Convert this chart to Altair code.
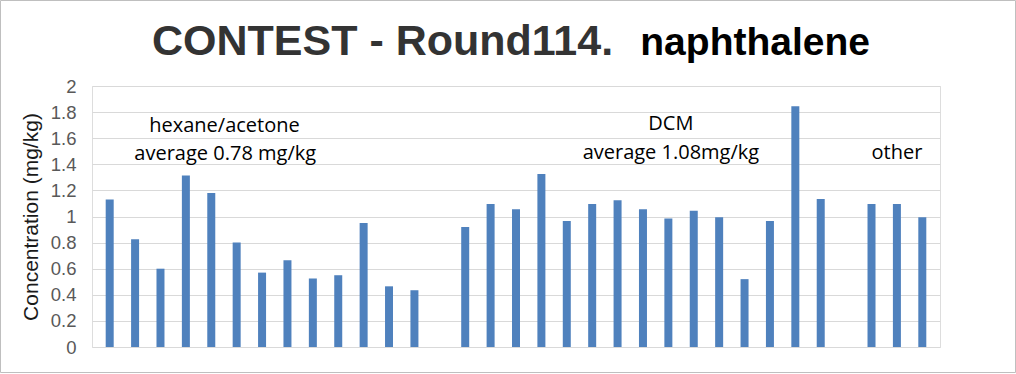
import altair as alt
import pandas as pd

# bar values (None = empty slot between groups)
values = [1.13, 0.825, 0.60, 1.315, 1.18, 0.80, 0.57, 0.665, 0.525, 0.55, 0.95, 0.465, 0.435,
          None,
          0.92, 1.095, 1.055, 1.325, 0.965, 1.095, 1.125, 1.055, 0.985, 1.045, 0.995, 0.52, 0.965, 1.845, 1.135,
          None,
          1.095, 1.095, 0.995]
positions = list(range(len(values)))

ann_text = ["hexane/acetone", "average 0.78 mg/kg", "DCM", "average 1.08mg/kg", "other"]
ann_x = [4.52, 4.55, 22.1, 22.1, 31.0]
ann_y = [1.69, 1.48, 1.71, 1.49, 1.49]

y_ticks = [0, 0.2, 0.4, 0.6, 0.8, 1, 1.2, 1.4, 1.6, 1.8, 2]

title_parts = ["CONTEST - Round114.", "naphthalene"]
title_colors = ["#333333", "#000000"]

bars_df = pd.DataFrame({"pos": positions, "value": values}).dropna()
ann_df = pd.DataFrame({"text": ann_text, "x": ann_x, "y": ann_y})

W, H = 848, 261
xs = alt.Scale(domain=[-0.5, len(values) - 0.5], nice=False, zero=False)
ys = alt.Scale(domain=[0, 2], nice=False)

y_axis = alt.Axis(values=y_ticks, format="~g", labelOverlap=False,
                  title="Concentration (mg/kg)", grid=True, gridColor="#d9d9d9",
                  domain=False, ticks=False, labelFontSize=18.5, labelColor="#595959",
                  labelFont="Liberation Sans", labelPadding=16,
                  titleFont="Liberation Sans", titleFontSize=21, titleColor="#1a1a1a",
                  titleFontWeight="normal", titlePadding=9)

bars = alt.Chart(bars_df).mark_bar(size=8, color="#4f81bd").encode(
    x=alt.X("pos:Q", scale=xs, axis=None),
    y=alt.Y("value:Q", scale=ys, axis=y_axis),
)

ann = alt.Chart(ann_df).mark_text(font="Open Sans", fontSize=20, color="#000000").encode(
    x=alt.X("x:Q", scale=xs, axis=None),
    y=alt.Y("y:Q", scale=ys, axis=y_axis),
    text="text:N",
)

t1 = alt.Chart(pd.DataFrame({"t": [title_parts[0]]})).mark_text(
    font="Liberation Sans", fontSize=43, fontWeight="bold", color=title_colors[0],
    align="left", baseline="alphabetic").encode(
    x=alt.value(152 - 92), y=alt.value(55 - 86), text="t:N")
t2 = alt.Chart(pd.DataFrame({"t": [title_parts[1]]})).mark_text(
    font="Liberation Sans", fontSize=39, fontWeight="bold", color=title_colors[1],
    align="right", baseline="alphabetic").encode(
    x=alt.value(870 - 92), y=alt.value(55 - 86), text="t:N")

border = alt.Chart(pd.DataFrame({"a": [0]})).mark_rect(fill=None, stroke="#bfbfbf", strokeWidth=1).encode(
    x=alt.value(-91.5), x2=alt.value(W + 75.5), y=alt.value(-85.5), y2=alt.value(H + 25.5)
)

chart = alt.layer(bars, ann, t1, t2, border).properties(
    width=W, height=H,
    autosize=alt.AutoSizeParams(type="none"),
    padding={"left": 92, "top": 86, "right": 76, "bottom": 26},
).configure_view(strokeWidth=0, stroke="transparent").configure(background="white")

chart.save("out.html", embed_options={"renderer": "svg", "actions": False})
